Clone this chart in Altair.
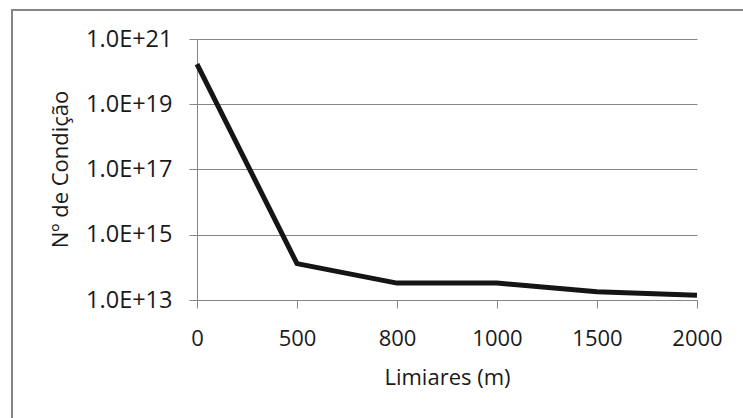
import altair as alt
import pandas as pd

limiares = ["0", "500", "800", "1000", "1500", "2000"]
condicao = [1.7e20, 1.3e14, 3.3e13, 3.3e13, 1.8e13, 1.4e13]
y_ticks = [1e13, 1e15, 1e17, 1e19, 1e21]

df = pd.DataFrame({"Limiares (m)": limiares, "Nº de Condição": condicao})

FONT = "Open Sans"
GRAY = "#868686"
TXT = "#1a1a1a"
FS = 22

line = alt.Chart(df).mark_line(color="#151515", strokeWidth=5, strokeJoin="round").encode(
    x=alt.X(
        "Limiares (m):O",
        sort=limiares,
        scale=alt.Scale(type="point", padding=0),
        axis=alt.Axis(
            labelAngle=0,
            labelFont=FONT,
            labelFontSize=FS,
            labelColor=TXT,
            labelPadding=20,
            tickSize=8,
            tickColor=GRAY,
            domainColor=GRAY,
            grid=False,
            titleFont=FONT,
            titleFontSize=FS,
            titleFontWeight="normal",
            titleColor=TXT,
            titleX=250,
            titleY=77,
            titleAlign="center",
            titleBaseline="middle",
        ),
    ),
    y=alt.Y(
        "Nº de Condição:Q",
        scale=alt.Scale(type="log", domain=[1e13, 1e21], nice=False),
        axis=alt.Axis(
            values=y_ticks,
            labelExpr="'1.0E+' + round(log(datum.value)/LN10)",
            labelFont=FONT,
            labelFontSize=23.5,
            labelColor=TXT,
            labelPadding=17,
            tickSize=8,
            tickColor=GRAY,
            domainColor=GRAY,
            gridColor=GRAY,
            gridWidth=1,
            titleFont=FONT,
            titleFontSize=FS,
            titleFontWeight="normal",
            titleColor=TXT,
            titleX=-137,
            titleY=130,
            titleAngle=270,
            titleAlign="center",
            titleBaseline="middle",
        ),
    ),
)

border = alt.Chart(pd.DataFrame({"a": [0]})).mark_rect(
    fill=None, stroke=GRAY, strokeWidth=2
).encode(
    x=alt.value(-185), x2=alt.value(620), y=alt.value(-29), y2=alt.value(460)
)

chart = alt.layer(border, line).properties(
    width=500,
    height=261,
    padding={"left": 197, "top": 39, "right": 46, "bottom": 118},
    autosize=alt.AutoSizeParams(type="none"),
    background="white",
).configure_view(stroke=None)

chart.save("out.html", embed_options={"renderer": "svg", "actions": False})
